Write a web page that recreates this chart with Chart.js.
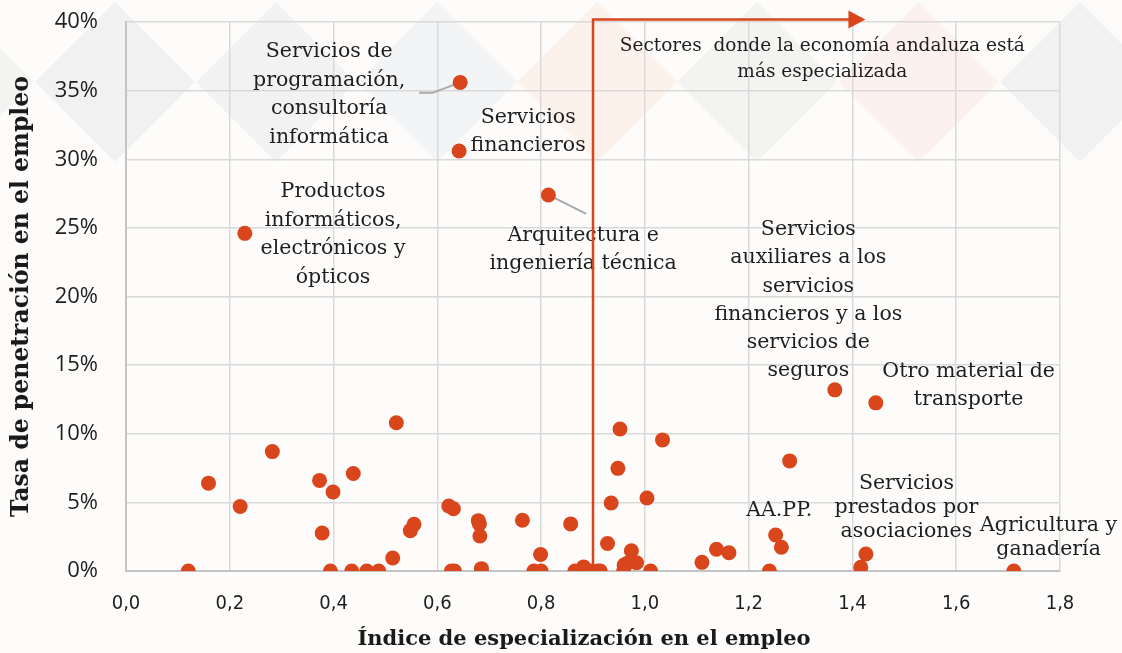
<!DOCTYPE html>
<html>
<head>
<meta charset="utf-8">
<script src="https://cdn.jsdelivr.net/npm/chart.js@4.4.0/dist/chart.umd.min.js"></script>
<style>
  html, body { margin: 0; padding: 0; background: #fdfcfb; }
  #wrap { width: 1122px; height: 653px; position: relative; }
</style>
</head>
<body>
<div id="wrap"><canvas id="myChart" width="1122" height="653"></canvas></div>
<script>
// indice de especializacion (x) y tasa de penetracion en % (y)
let indice = [0.12, 0.159, 0.22, 0.229, 0.282, 0.373, 0.378, 0.394, 0.399, 0.435,
  0.438, 0.464, 0.487, 0.514, 0.521, 0.548, 0.555, 0.622, 0.631, 0.627,
  0.633, 0.644, 0.642, 0.679, 0.681, 0.682, 0.685, 0.764, 0.786, 0.8,
  0.799, 0.814, 0.857, 0.865, 0.878, 0.882, 0.895, 0.909, 0.914, 0.928,
  0.935, 0.948, 0.952, 0.959, 0.96, 0.966, 0.974, 0.984, 1.004, 1.011,
  1.034, 1.11, 1.138, 1.162, 1.24, 1.252, 1.263, 1.279, 1.366, 1.416,
  1.426, 1.445, 1.711];
let tasa = [0, 6.4, 4.7, 24.6, 8.7, 6.6, 2.77, 0, 5.76, 0,
  7.1, 0, 0, 0.95, 10.8, 2.94, 3.4, 4.74, 4.54, 0,
  0, 35.6, 30.6, 3.67, 3.43, 2.55, 0.17, 3.7, 0, 0,
  1.2, 27.4, 3.43, 0, 0, 0.3, 0, 0, 0, 2.0,
  4.95, 7.48, 10.35, 0, 0.43, 0.56, 1.48, 0.6, 5.32, 0,
  9.55, 0.63, 1.58, 1.33, 0, 2.62, 1.73, 8.02, 13.2, 0.27,
  1.24, 12.25, 0];

let xTicks = [0, 0.2, 0.4, 0.6, 0.8, 1.0, 1.2, 1.4, 1.6, 1.8];
let yTicks = [0, 5, 10, 15, 20, 25, 30, 35, 40];

// umbral de especializacion (linea roja) y fin de la flecha
let umbral = 0.9;
let flechaFin = 1.425;

// etiquetas de texto: posicion en unidades de datos (centro de la primera linea)
let etiquetas = [
  { x: 0.3915, y: 37.83, lh: 28.5, lines: ["Servicios de", "programación,", "consultoría", "informática"] },
  { x: 0.775, y: 33.02, lh: 28, lines: ["Servicios", "financieros"] },
  { x: 0.399, y: 27.62, lh: 28.5, lines: ["Productos", "informáticos,", "electrónicos y", "ópticos"] },
  { x: 0.881, y: 24.42, lh: 28, lines: ["Arquitectura e", "ingeniería técnica"] },
  { x: 1.315, y: 24.85, lh: 28.2, lines: ["Servicios", "auxiliares a los", "servicios", "financieros y a los", "servicios de", "seguros"] },
  { x: 1.624, y: 14.5, lh: 28, lines: ["Otro material de", "transporte"] },
  { x: 1.259, y: 4.37, lh: 24, lines: ["AA.PP."] },
  { x: 1.504, y: 6.34, lh: 24, lines: ["Servicios", "prestados por", "asociaciones"] },
  { x: 1.778, y: 3.28, lh: 24, lines: ["Agricultura y", "ganadería"] }
];
let nota = { x: 1.342, y: 38.27, lh: 26, lines: ["Sectores  donde la economía andaluza está", "más especializada"] };

// lineas guia grises (unidades de datos)
let guias = [
  [[0.565, 34.84], [0.591, 34.84], [0.644, 35.6]],
  [[0.814, 27.4], [0.887, 26.02]]
];

let puntos = [];
for (i = 0; i < indice.length; i++) {
  puntos.push({ x: indice[i], y: tasa[i] });
}

const rojo = "#d9461c";
const fuenteEtiqueta = "'DejaVu Serif', serif";

// fondo con rombos
const fondoPlugin = {
  id: "fondo",
  beforeDraw(chart) {
    let ctx = chart.ctx;
    ctx.save();
    ctx.fillStyle = "#fdfcfb";
    ctx.fillRect(0, 0, chart.width, chart.height);
    let centros = [-46, 115, 276, 437, 597, 757, 919, 1080];
    let colores = ["#f3f4f1", "#f1f1f1", "#f2f2f2", "#f3f4f6", "#fdf1ec", "#f3f4f1", "#fcf1ee", "#f1f1f1"];
    for (let k = 0; k < centros.length; k++) {
      let cx = centros[k], cy = 82, r = 80;
      ctx.fillStyle = colores[k];
      ctx.beginPath();
      ctx.moveTo(cx, cy - r);
      ctx.lineTo(cx + r, cy);
      ctx.lineTo(cx, cy + r);
      ctx.lineTo(cx - r, cy);
      ctx.closePath();
      ctx.fill();
    }
    ctx.restore();
  }
};

function dibujaTexto(ctx, xs, ys, et) {
  let px = xs.getPixelForValue(et.x);
  let py = ys.getPixelForValue(et.y);
  for (let j = 0; j < et.lines.length; j++) {
    ctx.fillText(et.lines[j], px, py + j * et.lh);
  }
}

// etiquetas, guias, linea del umbral y titulos de ejes
const anotaPlugin = {
  id: "anota",
  beforeDatasetsDraw(chart) {
    let ctx = chart.ctx;
    let xs = chart.scales.x, ys = chart.scales.y;
    ctx.save();
    ctx.fillStyle = "#1e1e1e";
    ctx.textAlign = "center";
    ctx.textBaseline = "middle";
    ctx.font = "20.5px " + fuenteEtiqueta;
    etiquetas.forEach(et => dibujaTexto(ctx, xs, ys, et));
    ctx.font = "18.5px " + fuenteEtiqueta;
    dibujaTexto(ctx, xs, ys, nota);

    ctx.strokeStyle = "#a9a9a9";
    ctx.lineWidth = 2;
    guias.forEach(g => {
      ctx.beginPath();
      g.forEach((p, n) => {
        let gx = xs.getPixelForValue(p[0]), gy = ys.getPixelForValue(p[1]);
        if (n == 0) ctx.moveTo(gx, gy); else ctx.lineTo(gx, gy);
      });
      ctx.stroke();
    });

    // linea roja con flecha
    let ux = xs.getPixelForValue(umbral);
    let fy = ys.getPixelForValue(40) - 2.5;
    let fx = xs.getPixelForValue(flechaFin);
    ctx.strokeStyle = rojo;
    ctx.lineWidth = 2.5;
    ctx.beginPath();
    ctx.moveTo(ux, ys.getPixelForValue(0));
    ctx.lineTo(ux, fy);
    ctx.lineTo(fx - 16, fy);
    ctx.stroke();
    ctx.fillStyle = rojo;
    ctx.beginPath();
    ctx.moveTo(fx, fy);
    ctx.lineTo(fx - 17, fy - 9);
    ctx.lineTo(fx - 17, fy + 9);
    ctx.closePath();
    ctx.fill();

    // titulos de ejes
    let area = chart.chartArea;
    ctx.fillStyle = "#1a1a1a";
    ctx.font = "bold 21px " + fuenteEtiqueta;
    ctx.fillText("Índice de especialización en el empleo", (area.left + area.right) / 2 - 9, 640);
    ctx.font = "bold 23.5px " + fuenteEtiqueta;
    ctx.translate(22, (area.top + area.bottom) / 2);
    ctx.rotate(-Math.PI / 2);
    ctx.fillText("Tasa de penetración en el empleo", 0, 0);
    ctx.restore();
  }
};

new Chart("myChart", {
  type: "scatter",
  data: {
    datasets: [{
      data: puntos,
      backgroundColor: rojo,
      borderWidth: 0,
      pointRadius: 7.5,
      pointHoverRadius: 7.5
    }]
  },
  options: {
    responsive: false,
    animation: false,
    layout: { padding: { top: 22, right: 62, left: 0, bottom: 0 } },
    plugins: {
      legend: { display: false },
      tooltip: { enabled: false }
    },
    scales: {
      x: {
        type: "linear",
        min: 0,
        max: 1.8,
        afterFit(s) { s.height = 82; s.paddingLeft = 0; s.paddingRight = 0; },
        afterBuildTicks(s) { s.ticks = xTicks.map(v => ({ value: v })); },
        grid: { color: "#d9d9d9", lineWidth: 1.5, drawTicks: false },
        border: { color: "#c4c4c4", width: 2 },
        ticks: {
          padding: 21,
          color: "#1e1e1e",
          font: { family: "'DejaVu Sans Condensed', 'Liberation Sans Narrow', sans-serif", size: 20 },
          callback: v => v.toFixed(1).replace(".", ",")
        }
      },
      y: {
        type: "linear",
        min: 0,
        max: 40,
        afterFit(s) { s.width = 126; s.paddingTop = 0; s.paddingBottom = 0; },
        afterBuildTicks(s) { s.ticks = yTicks.map(v => ({ value: v })); },
        grid: { color: "#d9d9d9", lineWidth: 1.5, drawTicks: false },
        border: { color: "#c4c4c4", width: 2 },
        ticks: {
          padding: 28,
          color: "#1e1e1e",
          font: { family: "'Open Sans', sans-serif", size: 22 },
          callback: v => v + "%"
        }
      }
    }
  },
  plugins: [fondoPlugin, anotaPlugin]
});
</script>
</body>
</html>
